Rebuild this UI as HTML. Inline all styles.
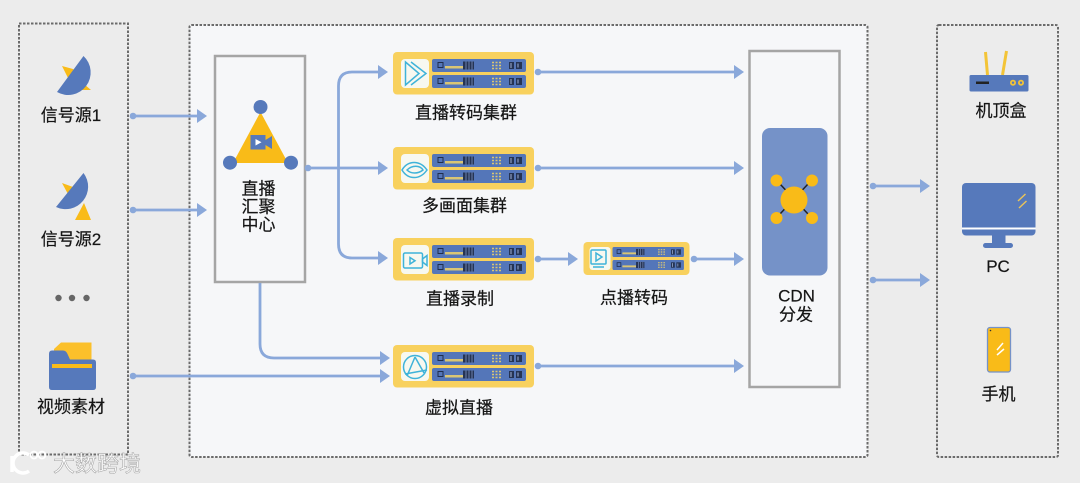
<!DOCTYPE html>
<html><head><meta charset="utf-8"><style>
html,body{margin:0;padding:0;background:#ececec}
svg{display:block}
text{font-family:"Liberation Sans","Noto Sans CJK SC",sans-serif;fill:#151515;stroke:#151515;stroke-width:.2px;text-anchor:middle;dominant-baseline:central;font-size:17px}
</style></head><body>
<svg width="1080" height="483" viewBox="0 0 1080 483" xmlns="http://www.w3.org/2000/svg">
<defs>
<g id="rack">
<rect width="94" height="13" rx="2" fill="#5476b9"/>
<rect x="6" y="3.500" width="5" height="5" fill="none" stroke="#1f2d4d" stroke-width="1"/>
<rect x="13" y="7" width="18" height="2.500" fill="#d9c574"/>
<rect x="31" y="2.500" width="11" height="8" fill="#253454"/>
<path d="M34 2.500v8M37 2.500v8M40 2.500v8" stroke="#7f93c2" stroke-width=".8"/>
<path d="M60 3.500h10M60 6.500h10M60 9.500h10" stroke="#d9c574" stroke-width="1.600" stroke-dasharray="2 1.500"/>
<rect x="77" y="3" width="5" height="7" fill="#253454"/><rect x="84" y="3" width="6" height="7" fill="#253454"/>
<path d="M79 4v5M86 4.500v4" stroke="#9fb0d6"/>
</g>
<g id="tile">
<rect width="141" height="42.500" rx="4" fill="#f8d15e"/>
<rect x="8" y="7" width="28" height="29" rx="4" fill="#f7f8f0"/>
<use href="#rack" x="39" y="7"/>
<use href="#rack" x="39" y="23"/>
</g>
<g id="vod">
<rect width="106" height="33" rx="4" fill="#f8d15e"/>
<rect x="6" y="5" width="21" height="23" rx="3" fill="#f7f8f0"/>
<g transform="translate(29,5) scale(.76,.77)"><use href="#rack"/></g>
<g transform="translate(29,18) scale(.76,.77)"><use href="#rack"/></g>
</g>
</defs>

<rect width="1080" height="483" fill="#ececec"/>

<!-- dashed containers -->
<rect x="19" y="23.500" width="109" height="431" fill="#ececec" stroke="#6b6b6b" stroke-width="2" stroke-dasharray="2.500 1.500"/>
<rect x="189.500" y="25" width="678" height="432" rx="2" fill="#f6f7f9" stroke="#6b6b6b" stroke-width="2" stroke-dasharray="2.500 1.500"/>
<rect x="937" y="25" width="121" height="432" rx="2" fill="#ececec" stroke="#6b6b6b" stroke-width="2" stroke-dasharray="2.500 1.500"/>

<!-- solid boxes -->
<rect x="215" y="56" width="90" height="226" fill="none" stroke="#a5a5a5" stroke-width="2.500"/>
<rect x="749.500" y="51" width="90" height="336" fill="none" stroke="#a5a5a5" stroke-width="2.500"/>

<!-- connectors -->
<g fill="none" stroke="#8aa8da" stroke-width="2.800">
<path d="M133 116H198M133 210H198M133 376H380"/>
<path d="M308 168H380M379 72H352Q338.500 72 338.500 86V244Q338.500 258 352 258H379"/>
<path d="M260 283V344Q260 358 274 358H380"/>
<path d="M538 72H735M538 168H735M538 259H569M694 259H735M538 366H735"/>
<path d="M872 186H921M872 280H921"/>
</g>
<g fill="#8aa8da">
<circle cx="133" cy="116" r="3.300"/><circle cx="133" cy="210" r="3.300"/><circle cx="133" cy="376" r="3.300"/>
<circle cx="308" cy="168" r="3.300"/>
<circle cx="538" cy="72" r="3.300"/><circle cx="538" cy="168" r="3.300"/><circle cx="538" cy="259" r="3.300"/><circle cx="694" cy="259" r="3.300"/><circle cx="538" cy="366" r="3.300"/>
<circle cx="873" cy="186" r="3.300"/><circle cx="873" cy="280" r="3.300"/>
<path d="M197 109l10 7-10 7zM197 203l10 7-10 7z"/>
<path d="M378 65l10 7-10 7zM378 161l10 7-10 7zM378 251l10 7-10 7zM380 351l10 7-10 7zM380 369l10 7-10 7z"/>
<path d="M734 65l10 7-10 7zM734 161l10 7-10 7zM734 252l10 7-10 7zM734 359l10 7-10 7z"/>
<path d="M568 252l10 7-10 7z"/>
<path d="M920 179l10 7-10 7zM920 273l10 7-10 7z"/>
</g>

<!-- dish icons -->
<path d="M62 66L73 69L82 78L68 78ZM84 84L91 90H82Z" fill="#f9bb18"/>
<path d="M83.500 56A22.500 22.500 0 0 1 57 92Z" fill="#5679bb"/>
<path d="M62 183L73 187L80 197L69 196ZM84 203L91 220H75Z" fill="#f9bb18"/>
<path d="M83.500 173A22.500 22.500 0 0 1 56 207Z" fill="#5679bb"/>

<g fill="#666"><circle cx="58.500" cy="298" r="3.200"/><circle cx="72" cy="298" r="3.200"/><circle cx="86.500" cy="298" r="3.200"/></g>

<!-- folder -->
<path d="M54 349L61 342.500H91.500V365H54Z" fill="#fbc02a"/>
<path d="M49 354Q49 350.500 52 350.500H63Q66 350.500 67.500 354L70 359.500H93Q96 359.500 96 362.500V387Q96 390 93 390H52Q49 390 49 387Z" fill="#5679bb"/>
<rect x="52" y="364" width="40" height="4" fill="#f9bb18"/>

<!-- live hub icon -->
<path d="M260.500 112L233 163H288Z" fill="#f9bb18"/>
<circle cx="260.500" cy="107" r="7" fill="#5679bb"/><circle cx="230" cy="162.700" r="7" fill="#5679bb"/><circle cx="291" cy="162.700" r="7" fill="#5679bb"/>
<rect x="250.500" y="135" width="15" height="14.500" fill="#5679bb"/>
<path d="M265.500 140L272 136V149L265.500 145Z" fill="#5679bb"/>
<path d="M255.500 139v6.500l6-3.200z" fill="#fff"/>

<!-- tiles -->
<use href="#tile" x="393" y="52"/>
<use href="#tile" x="393" y="147"/>
<use href="#tile" x="393" y="238"/>
<use href="#tile" x="393" y="345"/>
<use href="#vod" x="583.500" y="242"/>

<!-- tile icons -->
<g fill="none" stroke="#3fb3d9" stroke-width="1.500">
<path d="M405.500 62L419 73.500L405.500 85ZM411 62L426 73.500L411 85"/>
<path d="M402 170C408 160 420 160 427 170C420 180 408 180 402 170Z"/><path d="M407 170C412 165 420 165 423 170C418 174 411 174 407 170Z"/>
<rect x="403.500" y="253" width="19" height="15" rx="1.500"/><path d="M422.500 259L427 255.500V265.500L422.500 262ZM410 257.500V264L415 260.700Z"/>
<rect x="591" y="250" width="15" height="14" rx="1"/><path d="M596 253V261L602 257ZM593 267H604"/>
<circle cx="415" cy="367" r="11.500"/><path d="M415 357L407 376M415 357L424 373M405 374L427 370"/>
</g>

<!-- CDN -->
<rect x="762" y="128" width="65.500" height="147.500" rx="8" fill="#7592c8"/>
<path d="M780 184L808 214M808 184L780 214" stroke="#222" stroke-width="1.500"/>
<circle cx="794" cy="200" r="13.500" fill="#f9bb18"/>
<g fill="#f9bb18"><circle cx="776.500" cy="180.500" r="6"/><circle cx="812" cy="180.500" r="6"/><circle cx="776.500" cy="218" r="6"/><circle cx="812" cy="218" r="6"/></g>

<!-- set top box -->
<path d="M985.500 52L987.500 75M1006.500 51L1002.500 75" stroke="#f3c437" stroke-width="3" fill="none"/>
<rect x="969.500" y="75" width="59" height="16.500" rx="1.500" fill="#5679bb"/>
<rect x="976" y="81.500" width="13" height="2.500" fill="#222"/>
<circle cx="1013" cy="82.700" r="3" fill="#f3c437"/><circle cx="1021" cy="82.700" r="3" fill="#f3c437"/>
<circle cx="1013" cy="82.700" r="1.200" fill="#5679bb"/><circle cx="1021" cy="82.700" r="1.200" fill="#5679bb"/>

<!-- PC -->
<rect x="962" y="183" width="73.500" height="52.500" rx="4" fill="#5679bb"/>
<rect x="962" y="227.500" width="73.500" height="2" fill="#fff"/>
<rect x="992" y="235" width="13.500" height="9" fill="#5679bb"/>
<rect x="983" y="243" width="30" height="5" rx="2.500" fill="#5679bb"/>
<path d="M1018 201L1025.500 194M1019 208L1026.500 201" stroke="#e9c35a" stroke-width="1.500"/>

<!-- phone -->
<rect x="987.500" y="327.500" width="23" height="44.500" rx="2.500" fill="#f9bb18" stroke="#7592c8" stroke-width="1.300"/>
<circle cx="990.500" cy="330.500" r=".8" fill="#333"/>
<path d="M997 350L1003 343M997 355L1004 349" stroke="#fff" stroke-width="1.500"/>

<!-- labels -->
<text x="71" y="115.500">信号源1</text>
<text x="71" y="239.500">信号源2</text>
<text x="71" y="407">视频素材</text>
<text x="258.500" y="189">直播</text>
<text x="258.500" y="207">汇聚</text>
<text x="258.500" y="225">中心</text>
<text x="466" y="113">直播转码集群</text>
<text x="464.500" y="206">多画面集群</text>
<text x="460" y="299">直播录制</text>
<text x="634" y="298">点播转码</text>
<text x="459" y="408">虚拟直播</text>
<text x="796.500" y="296">CDN</text>
<text x="796" y="315">分发</text>
<text x="1001" y="111">机顶盒</text>
<text x="998" y="266.500">PC</text>
<text x="998.500" y="394.500">手机</text>

<!-- watermark -->
<g>
<path d="M12 456V472M29 455A10 10 0 1 0 29 471" fill="none" stroke="#fff" stroke-width="3.500"/>
<circle cx="34" cy="455" r="3.500" fill="none" stroke="#fff" stroke-width="1.800"/><circle cx="42" cy="455" r="3.500" fill="none" stroke="#fff" stroke-width="1.800"/>
<text x="97" y="464" style="font-size:22px;fill:#fff;stroke:#aaa;stroke-width:.6px">大数跨境</text>
</g>
</svg>
</body></html>
